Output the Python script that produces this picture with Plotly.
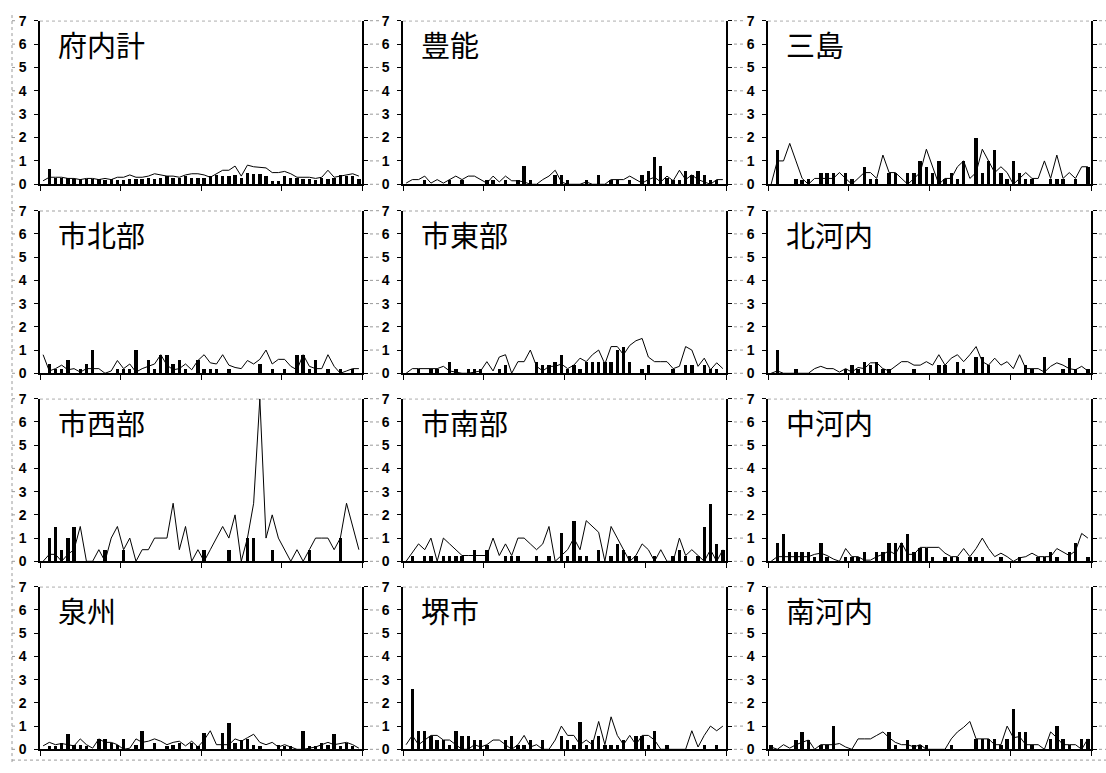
import plotly.graph_objects as go

weeks = list(range(1, 53))
regions = ["府内計", "豊能", "三島", "市北部", "市東部", "北河内",
           "市西部", "市南部", "中河内", "泉州", "堺市", "南河内"]
y_ticks = [0, 1, 2, 3, 4, 5, 6, 7]

bars_funai = [0, 0.65, 0.3, 0.3, 0.3, 0.25, 0.25, 0.25, 0.25, 0.25, 0.2, 0.25, 0.2, 0.2, 0.25, 0.25, 0.25, 0.3, 0.25, 0.3,
              0.35, 0.3, 0.3, 0.35, 0.3, 0.3, 0.3, 0.35, 0.4, 0.35, 0.35, 0.4, 0.3, 0.5, 0.45, 0.45, 0.35, 0.15, 0.15, 0.35,
              0.3, 0.3, 0.25, 0.25, 0.2, 0.3, 0.25, 0.3, 0.4, 0.35, 0.35, 0.25]
line_funai = [0.15, 0.3, 0.3, 0.3, 0.25, 0.25, 0.2, 0.25, 0.25, 0.2, 0.25, 0.2, 0.3, 0.3, 0.4, 0.3, 0.3, 0.35, 0.45, 0.4,
              0.35, 0.35, 0.3, 0.4, 0.45, 0.45, 0.4, 0.3, 0.45, 0.6, 0.6, 0.78, 0.35, 0.82, 0.75, 0.72, 0.7, 0.5, 0.5, 0.55,
              0.45, 0.3, 0.3, 0.3, 0.25, 0.3, 0.6, 0.3, 0.35, 0.4, 0.45, 0.35]

bars_toyono = [0, 0, 0, 0.2, 0, 0, 0, 0.2, 0, 0.2, 0, 0, 0, 0.2, 0.2, 0, 0.2, 0, 0.2, 0.8,
               0.2, 0, 0, 0, 0.4, 0.4, 0.2, 0, 0, 0.2, 0, 0.4, 0, 0.2, 0.2, 0, 0.2, 0, 0.4, 0.6,
               1.2, 0.8, 0.3, 0.2, 0.2, 0.6, 0.4, 0.6, 0.4, 0.2, 0.2, 0]
line_toyono = [0.05, 0.2, 0.2, 0.35, 0.05, 0.2, 0.05, 0.2, 0.35, 0.2, 0.35, 0.35, 0.2, 0.05, 0.35, 0.1, 0.35, 0.15, 0.15, 0.1,
               0, 0, 0.2, 0.35, 0.6, 0.1, 0, 0, 0, 0.1, 0, 0, 0, 0.2, 0.2, 0.2, 0.35, 0.2, 0.05, 0.2,
               0.3, 0.1, 0.35, 0.15, 0.6, 0.2, 0.4, 0.2, 0.1, 0, 0.2, 0.2]

bars_mishima = [0, 1.5, 0, 0, 0.25, 0.2, 0.25, 0, 0.5, 0.5, 0.5, 0, 0.5, 0.25, 0, 0.75, 0.25, 0.25, 0, 0.5,
                0.5, 0, 0.5, 0.5, 1.0, 0.75, 0.5, 1.0, 0.25, 0.5, 0.25, 1.0, 0, 2.0, 0.5, 1.0, 1.5, 0.5, 0.25, 1.0,
                0.5, 0.25, 0.25, 0, 0, 0.25, 0.25, 0.25, 0, 0.25, 0, 0.75]
line_mishima = [0, 1.0, 1.0, 1.75, 1.0, 0.25, 0, 0.25, 0.25, 0.25, 0.25, 0.5, 0.25, 0, 0.25, 0.5, 0.5, 0.25, 1.25, 0.5,
                0.5, 0.25, 0, 0.25, 0.5, 1.5, 0.75, 0, 0.25, 0.25, 0.75, 1.0, 0.25, 0.5, 1.5, 1.0, 0.5, 0.75, 0.5, 0,
                0.25, 0.5, 0.25, 0.25, 1.0, 0.25, 1.25, 0.25, 0.5, 0.25, 0.75, 0.75]

bars_kita = [0, 0.4, 0.2, 0.2, 0.6, 0, 0.2, 0.4, 1.0, 0, 0, 0, 0.2, 0.2, 0.2, 1.0, 0, 0.6, 0.2, 0.8,
             0.8, 0.4, 0.6, 0.2, 0, 0.6, 0.2, 0.2, 0.2, 0, 0.2, 0, 0, 0, 0, 0.4, 0, 0.2, 0, 0.2,
             0, 0.8, 0.8, 0.2, 0.6, 0, 0.2, 0, 0.2, 0, 0.2, 0]
line_kita = [0.8, 0.1, 0.2, 0.35, 0.15, 0.2, 0.05, 0.2, 0.2, 0.2, 0, 0.1, 0.55, 0.2, 0.4, 0.05, 0.2, 0.3, 0.4, 0.8,
             0.35, 0.15, 0.2, 0.4, 0.15, 0.55, 0.8, 0.45, 0.4, 0.8, 0.35, 0.25, 0.2, 0.55, 0.4, 0.6, 1.0, 0.4, 0.6, 0.6,
             0.3, 0.15, 0.8, 0.3, 0.2, 0.2, 0.8, 0.3, 0, 0.1, 0.2, 0.2]

bars_higashi = [0, 0, 0.2, 0, 0.2, 0.2, 0, 0.5, 0.2, 0, 0.2, 0.2, 0.2, 0, 0, 0.2, 0.35, 0, 0, 0,
                0, 0.5, 0.35, 0.35, 0.5, 0.8, 0.2, 0.35, 0.2, 0.5, 0.5, 0.5, 0.5, 0.5, 1.0, 1.15, 0.5, 0, 0.2, 0.35,
                0, 0, 0, 0.2, 0, 0.35, 0.35, 0, 0.35, 0.2, 0.2, 0]
line_higashi = [0, 0.2, 0.2, 0.2, 0.2, 0.2, 0.3, 0.1, 0.05, 0, 0, 0.05, 0.1, 0.5, 0.1, 0.7, 0.8, 0, 0.5, 0.5,
                1.0, 0.3, 0.1, 0.3, 0.3, 0.4, 0.2, 0.35, 0.65, 0.5, 0.8, 1.0, 0.4, 1.15, 1.15, 0.8, 1.2, 1.4, 1.5, 0.7,
                0.5, 0.5, 0.5, 0.2, 0.3, 1.15, 1.0, 0.3, 0.65, 0.15, 0.45, 0.2]

bars_kitakawachi = [0, 1.0, 0, 0, 0.2, 0, 0, 0, 0, 0, 0, 0, 0.2, 0.35, 0.2, 0.5, 0.35, 0.5, 0.2, 0.2,
                    0, 0, 0, 0.2, 0, 0, 0, 0.35, 0.35, 0, 0.5, 0.2, 0, 0.7, 0.7, 0.35, 0, 0, 0, 0,
                    0, 0.35, 0.2, 0, 0.7, 0, 0, 0.2, 0.65, 0.2, 0, 0.2]
line_kitakawachi = [0, 0.1, 0, 0, 0, 0, 0, 0.2, 0.3, 0.2, 0.2, 0.05, 0.2, 0.05, 0.25, 0.2, 0.45, 0.45, 0.2, 0.1,
                    0.3, 0.5, 0.5, 0.35, 0.35, 0.5, 0.35, 0.8, 0.35, 0.65, 0.8, 0.5, 0.8, 1.15, 0.5, 0.35, 0.65, 0.35, 0.5, 0.2,
                    0.8, 0.2, 0.2, 0.2, 0.05, 0.3, 0.45, 0.35, 0.2, 0.15, 0.3, 0.1]

bars_nishi = [0, 1.0, 1.5, 0.5, 1.0, 1.5, 0, 0, 0, 0, 0.5, 0, 0, 0.5, 0, 0, 0, 0, 0, 0,
              0, 0, 0, 0, 0, 0, 0.5, 0, 0, 0, 0.5, 0, 0, 1.0, 1.0, 0, 0, 0.5, 0, 0,
              0, 0, 0, 0.5, 0, 0, 0, 0, 1.0, 0, 0, 0]
line_nishi = [0, 0.3, 0.3, 0, 0.3, 0.5, 1.5, 0, 0, 0.5, 0, 1.0, 1.5, 0.5, 1.0, 0, 0.5, 0.5, 1.0, 1.0,
              1.0, 2.5, 0.5, 1.5, 0, 0.5, 0, 0.5, 1.0, 1.5, 1.0, 2.0, 0, 1.0, 2.5, 7.0, 1.0, 2.0, 1.0, 0.5,
              0, 0.5, 0, 0.5, 1.0, 1.0, 1.0, 0.5, 1.0, 2.5, 1.5, 0.5]

bars_minami = [0, 0.25, 0, 0.25, 0.25, 0, 0.25, 0.25, 0.25, 0.25, 0, 0.5, 0, 0.5, 0, 0, 0.25, 0.25, 0.25, 0,
               0, 0.25, 0, 0.25, 0, 1.25, 0.25, 1.75, 0.25, 0.25, 0, 0.5, 0, 0.25, 0.75, 0.5, 0.25, 0.25, 0, 0,
               0.25, 0, 0, 0.25, 0.5, 0.25, 0, 0.25, 1.5, 2.5, 0.75, 0.5]
line_minami = [0, 0.4, 0.75, 0.5, 1.0, 0, 1.0, 0.75, 0.5, 0.25, 0.25, 0.25, 0.25, 0.25, 1.0, 0.25, 0.75, 0.25, 1.0, 1.0,
               0.75, 0.5, 0.75, 1.5, 0, 0.25, 0.5, 1.0, 0.5, 1.75, 1.5, 1.25, 0, 1.5, 1.0, 0.5, 0, 0.25, 0.75, 0.5,
               0, 0.5, 0, 0, 1.0, 0.25, 0.5, 0.25, 0, 0.5, 0, 0.5]

bars_nakakawachi = [0, 0.8, 1.2, 0.4, 0.4, 0.4, 0.4, 0.2, 0.8, 0.2, 0, 0, 0.2, 0.2, 0.2, 0.4, 0, 0.4, 0.4, 0.8,
                    0.8, 0.8, 1.2, 0.4, 0.6, 0.6, 0.2, 0, 0.2, 0.2, 0.2, 0, 0.2, 0.2, 0.2, 0, 0, 0.2, 0, 0,
                    0.2, 0, 0, 0.2, 0.2, 0.4, 0.2, 0, 0.4, 0.8, 0, 0.2]
line_nakakawachi = [0, 0.2, 0.2, 0.2, 0.2, 0.2, 0.2, 0.3, 0.35, 0.25, 0.1, 0, 0.55, 0.2, 0.2, 0.05, 0.05, 0.2, 0.3, 0.45,
                    0.3, 0.8, 0.3, 0.3, 0.6, 0.6, 0.6, 0.6, 0.35, 0.2, 0.2, 0.55, 0.2, 0.55, 1.0, 0.55, 0.2, 0.35, 0.2, 0,
                    0.15, 0.2, 0.35, 0.2, 0.2, 0.2, 0.55, 0.4, 0.25, 0.45, 1.2, 1.0]

bars_senshu = [0, 0.15, 0.15, 0.3, 0.65, 0.2, 0.2, 0.15, 0, 0.45, 0.45, 0.3, 0.2, 0.45, 0, 0.2, 0.8, 0, 0.3, 0,
               0.15, 0.2, 0.3, 0, 0.3, 0.15, 0.7, 0, 0, 0.7, 1.15, 0.3, 0.4, 0.45, 0.2, 0.15, 0, 0, 0.2, 0.15,
               0.15, 0, 0.8, 0.15, 0.15, 0.3, 0.2, 0.65, 0.15, 0.3, 0.15, 0]
line_senshu = [0.15, 0.3, 0.2, 0.25, 0.2, 0.15, 0.45, 0.2, 0.05, 0.45, 0.3, 0.3, 0.2, 0, 0.05, 0.45, 0.3, 0.35, 0.45, 0.35,
               0.2, 0.3, 0.35, 0.15, 0.35, 0.1, 0.4, 0.8, 0.2, 0.2, 0.2, 0.45, 0.35, 0.5, 0.65, 0.3, 0.2, 0.3, 0.1, 0.2,
               0.1, 0, 0, 0.05, 0.1, 0.2, 0.3, 0.2, 0.25, 0.3, 0.2, 0.05]

bars_sakai = [0, 2.6, 0.8, 0.8, 0.6, 0.4, 0.4, 0.2, 0.8, 0.6, 0.6, 0.4, 0.4, 0.2, 0, 0, 0.4, 0.6, 0.2, 0.2,
              0.4, 0, 0.4, 0, 0, 0.6, 0.4, 0.2, 1.2, 0.2, 0.4, 0.6, 0.2, 0.2, 0.2, 0.4, 0, 0.6, 0.6, 0.2,
              0.8, 0, 0.2, 0, 0, 0, 0, 0, 0.2, 0, 0.2, 0]
line_sakai = [0.2, 0.6, 0.2, 0.4, 0.6, 0.6, 0.4, 0.4, 0.2, 0, 0, 0.2, 0.1, 0.2, 0.4, 0.4, 0.2, 0, 0.2, 0.6,
              0.1, 0.2, 0, 0, 0.4, 1.0, 0.6, 0.6, 0.2, 0.4, 0.2, 1.2, 0.2, 1.4, 0.6, 0.2, 0.6, 0.2, 0.6, 0.6,
              0.4, 0, 0, 0, 0, 0, 0.8, 0.1, 0.6, 1.0, 0.8, 1.0]

bars_minamikawachi = [0.2, 0, 0, 0, 0.4, 0.75, 0.4, 0, 0.2, 0.2, 1.0, 0, 0, 0, 0, 0, 0, 0, 0, 0.75,
                      0.2, 0, 0.4, 0.2, 0.2, 0.2, 0, 0, 0, 0.2, 0, 0, 0, 0.45, 0.45, 0.45, 0.45, 0.2, 0.45, 1.75,
                      0.75, 0.75, 0.2, 0, 0, 0.45, 1.0, 0.45, 0.2, 0, 0.45, 0.45]
line_minamikawachi = [0.1, 0, 0.2, 0.05, 0.2, 0.3, 0.4, 0, 0.2, 0.2, 0.2, 0.25, 0.1, 0, 0.45, 0.45, 0.45, 0.6, 0.75, 0.5,
                      0.3, 0.2, 0.2, 0.1, 0.2, 0, 0, 0, 0, 0.45, 0.75, 0.95, 1.2, 0.45, 0.45, 0.45, 0.2, 0.2, 1.0, 0.5,
                      0.55, 0.2, 0.2, 0.2, 0, 0.75, 0.5, 0.2, 0.2, 0.2, 0, 0.45]

bar_series = [bars_funai, bars_toyono, bars_mishima, bars_kita, bars_higashi, bars_kitakawachi,
              bars_nishi, bars_minami, bars_nakakawachi, bars_senshu, bars_sakai, bars_minamikawachi]
line_series = [line_funai, line_toyono, line_mishima, line_kita, line_higashi, line_kitakawachi,
               line_nishi, line_minami, line_nakakawachi, line_senshu, line_sakai, line_minamikawachi]

W, H = 1106, 773
col_px = [(40, 362), (403, 726), (768, 1091)]
row_px = [(13, 180), (207, 373), (399, 565), (591, 757)]

fig = go.Figure()
layout = dict(width=W, height=H, margin=dict(l=0, r=0, t=0, b=0),
              paper_bgcolor="white", plot_bgcolor="white", showlegend=False,
              bargap=0, barmode="overlay")
shapes = []
annotations = []
dot_grey = "#9a9a9a"

for i, name in enumerate(regions):
    r, c = divmod(i, 3)
    n = i + 1
    xs = "" if n == 1 else str(n)
    xa, ya = "x" + xs, "y" + xs
    x0, x1 = col_px[c]
    yt, yb = row_px[r]
    fig.add_trace(go.Bar(x=weeks, y=bar_series[i], width=0.55, marker=dict(color="black", line=dict(width=0)),
                         xaxis=xa, yaxis=ya))
    fig.add_trace(go.Scatter(x=weeks, y=line_series[i], mode="lines", line=dict(color="black", width=1),
                             xaxis=xa, yaxis=ya))
    layout["xaxis" + xs] = dict(domain=[x0 / W, x1 / W], anchor=ya, range=[0.5, 52.5],
                                tickvals=[0.5, 13.5, 26.5, 39.5, 52.5], ticks="outside", ticklen=5,
                                tickcolor="black", showticklabels=False, showline=True, linecolor="black",
                                linewidth=1.5, showgrid=False, zeroline=False, fixedrange=True)
    layout["yaxis" + xs] = dict(domain=[1 - yb / H, 1 - yt / H], anchor=xa, range=[0, 7],
                                tickvals=y_ticks, ticks="outside", ticklen=4, tickcolor="black",
                                showline=True, linecolor="black", linewidth=1.5, mirror="ticks",
                                showgrid=False, zeroline=False, ticklabelstandoff=5,
                                tickfont=dict(family="Liberation Sans, Arial", size=14, color="black",
                                              weight="bold"))
    shapes.append(dict(type="line", xref=xa + " domain", yref=ya, x0=0, x1=1, y0=7, y1=7,
                       line=dict(color="#444444", width=1.2, dash="dot")))
    # faint dotted leader marks beside the right axis (scan look)
    for t in y_ticks:
        py = yb - (yb - yt) * t / 7.0
        shapes.append(dict(type="line", xref="paper", yref="paper",
                           x0=(x1 + 8) / W, x1=min(x1 + 20, W) / W, y0=1 - py / H, y1=1 - py / H,
                           line=dict(color=dot_grey, width=1, dash="dot")))
    annotations.append(dict(text=name, xref=xa + " domain", yref=ya + " domain", x=0.05, y=0.855,
                            xanchor="left", yanchor="middle", showarrow=False,
                            font=dict(family="Noto Sans CJK JP", size=29, color="black")))

# faint dotted border on the left and bottom (scan look)
shapes.append(dict(type="line", xref="paper", yref="paper", x0=12 / W, x1=12 / W, y0=1 - 770 / H, y1=1 - 4 / H,
                   line=dict(color=dot_grey, width=1, dash="dot")))
shapes.append(dict(type="line", xref="paper", yref="paper", x0=12 / W, x1=1, y0=1 - 768 / H, y1=1 - 768 / H,
                   line=dict(color=dot_grey, width=1, dash="dot")))
for t in y_ticks:
    for (yt, yb) in row_px:
        py = yb - (yb - yt) * t / 7.0
        shapes.append(dict(type="line", xref="paper", yref="paper", x0=12 / W, x1=18 / W,
                           y0=1 - py / H, y1=1 - py / H, line=dict(color=dot_grey, width=1, dash="dot")))

layout["shapes"] = shapes
layout["annotations"] = annotations
fig.update_layout(**layout)
fig.write_html("out.html")
